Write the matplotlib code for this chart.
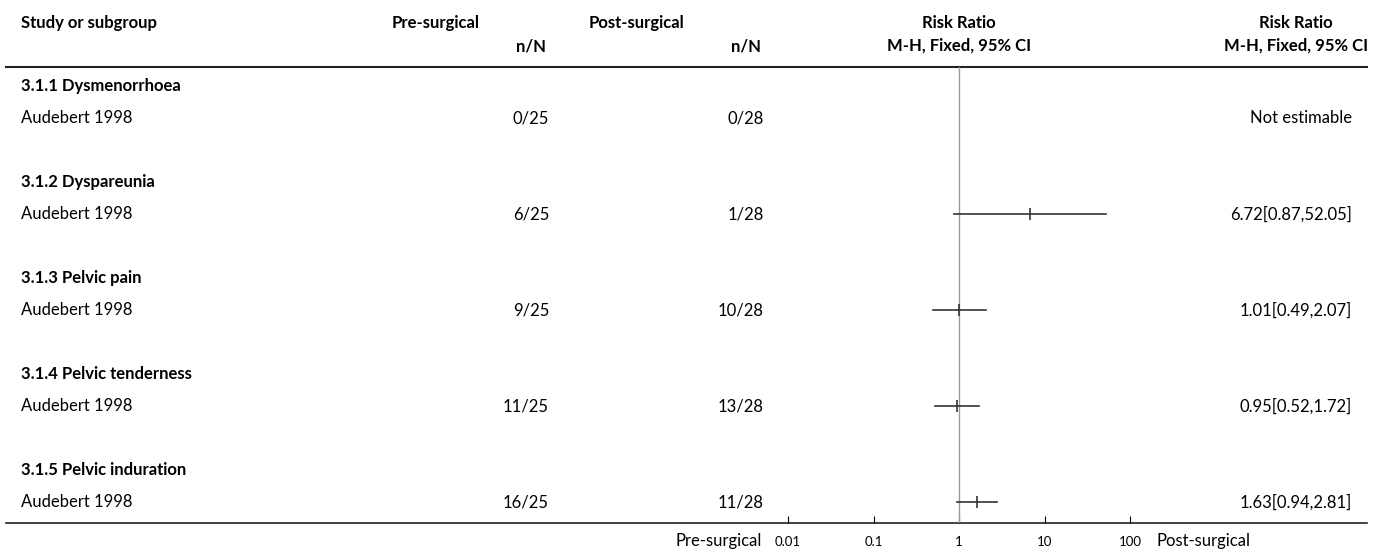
import numpy as np
import matplotlib.pyplot as plt

plt.rcParams['font.family'] = ['Lato', 'DejaVu Sans']

groups = ["3.1.1 Dysmenorrhoea", "3.1.2 Dyspareunia", "3.1.3 Pelvic pain",
          "3.1.4 Pelvic tenderness", "3.1.5 Pelvic induration"]
studies = ["Audebert 1998"] * 5
pre = ["0/25", "6/25", "9/25", "11/25", "16/25"]
post = ["0/28", "1/28", "10/28", "13/28", "11/28"]
rr = [np.nan, 6.72, 1.01, 0.95, 1.63]
lo = [np.nan, 0.87, 0.49, 0.52, 0.94]
hi = [np.nan, 52.05, 2.07, 1.72, 2.81]
rr_text = ["Not estimable", "6.72[0.87,52.05]", "1.01[0.49,2.07]",
           "0.95[0.52,1.72]", "1.63[0.94,2.81]"]
ticks = [0.01, 0.1, 1, 10, 100]
tick_labels = ["0.01", "0.1", "1", "10", "100"]

W, H = 1373, 553
fig = plt.figure(figsize=(W / 100, H / 100), dpi=100)

# text layer in pixel coords
ax = fig.add_axes([0, 0, 1, 1])
ax.set_xlim(0, W)
ax.set_ylim(H, 0)
ax.axis('off')

fs = 12
hd = dict(fontsize=fs, fontweight='bold', va='center')
ax.text(21, 23, "Study or subgroup", ha='left', **hd)
ax.text(436, 23, "Pre-surgical", ha='center', **hd)
ax.text(531, 46, "n/N", ha='center', **hd)
ax.text(636, 23, "Post-surgical", ha='center', **hd)
ax.text(746, 46, "n/N", ha='center', **hd)
ax.text(959, 23, "Risk Ratio", ha='center', **hd)
ax.text(959, 46, "M-H, Fixed, 95% CI", ha='center', **hd)
ax.text(1296, 23, "Risk Ratio", ha='center', **hd)
ax.text(1296, 46, "M-H, Fixed, 95% CI", ha='center', **hd)
ax.plot([6, 1367], [67, 67], color='#222222', lw=1.5)
ax.plot([6, 1367], [523, 523], color='#222222', lw=1.2)

y_group = [86 + 96 * i for i in range(len(groups))]
y_study = [y + 32 for y in y_group]
for i in range(len(groups)):
    ax.text(21, y_group[i], groups[i], ha='left', **hd)
    ax.text(21, y_study[i], studies[i], ha='left', va='center', fontsize=fs)
    ax.text(549, y_study[i], pre[i], ha='right', va='center', fontsize=fs)
    ax.text(764, y_study[i], post[i], ha='right', va='center', fontsize=fs)
    ax.text(1352, y_study[i], rr_text[i], ha='right', va='center', fontsize=fs)

ax.text(762, 541, "Pre-surgical", ha='right', va='center', fontsize=fs)
ax.text(1157, 541, "Post-surgical", ha='left', va='center', fontsize=fs)

# forest axis
fa = fig.add_axes([702.5 / W, (H - 523) / H, 513 / W, (523 - 67) / H])
fa.set_xscale('log')
fa.set_xlim(1e-3, 1e3)
fa.set_ylim(523, 67)
fa.patch.set_alpha(0)
for s in fa.spines.values():
    s.set_visible(False)
fa.axvline(1, color='#999999', lw=1)
for i in range(len(rr)):
    if np.isnan(rr[i]):
        continue
    fa.plot([lo[i], hi[i]], [y_study[i], y_study[i]], color='#333333', lw=1.2)
    fa.plot([rr[i]], [y_study[i]], marker='|', ms=9, mew=1.2, color='#333333')
fa.set_xticks(ticks)
fa.set_xticklabels(tick_labels)
fa.minorticks_off()
fa.tick_params(axis='x', direction='in', length=5, width=0.8, labelsize=9.5, pad=9)
fa.set_yticks([])

fig.savefig("out.png", dpi=100)
